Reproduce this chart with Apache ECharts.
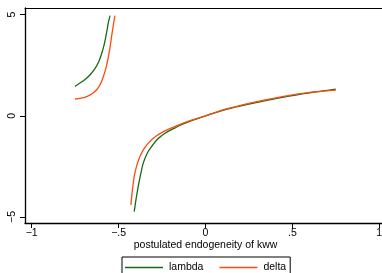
<!DOCTYPE html>
<html>
<head>
<meta charset="utf-8">
<script src="https://cdn.jsdelivr.net/npm/echarts@6/dist/echarts.min.js"></script>
<style>
  html, body { margin: 0; padding: 0; background: #fff; }
  #graphics { width: 382px; height: 273px; }
</style>
</head>
<body>
<div id="graphics"></div>
<script>
// tick values and labels
const xTicks = [-1, -0.5, 0, 0.5, 1];
const xTickLabels = ["\u22121", "\u2212.5", "0", ".5", "1"];
const yTicks = [-5, 0, 5];
const yTickLabels = ["\u22125", "0", "5"];

// lambda, left branch
const lambdaLeftX = [-0.751, -0.72, -0.693, -0.665, -0.636, -0.615, -0.597, -0.584, -0.573, -0.565, -0.559, -0.549];
const lambdaLeftY = [1.45, 1.63, 1.80, 2.02, 2.33, 2.66, 3.08, 3.48, 3.93, 4.3, 4.6, 4.95];
// lambda, right branch
const lambdaRightX = [-0.410, -0.398, -0.387, -0.372, -0.358, -0.335, -0.310, -0.275, -0.233, -0.18, -0.128, -0.06, 0, 0.125, 0.25, 0.375, 0.5, 0.625, 0.75];
const lambdaRightY = [-4.74, -4.05, -3.50, -2.85, -2.34, -1.85, -1.52, -1.15, -0.86, -0.62, -0.40, -0.18, 0, 0.33, 0.58, 0.80, 1.00, 1.17, 1.32];

// delta, left branch
const deltaLeftX = [-0.751, -0.715, -0.684, -0.655, -0.626, -0.605, -0.588, -0.572, -0.559, -0.549, -0.540, -0.530, -0.521];
const deltaLeftY = [0.83, 0.87, 0.95, 1.08, 1.29, 1.56, 1.93, 2.38, 2.90, 3.4, 3.93, 4.50, 4.95];
// delta, right branch
const deltaRightX = [-0.429, -0.420, -0.410, -0.395, -0.377, -0.355, -0.329, -0.295, -0.252, -0.19, -0.128, -0.06, 0, 0.125, 0.25, 0.375, 0.5, 0.625, 0.75];
const deltaRightY = [-4.41, -3.65, -3.00, -2.45, -2.01, -1.65, -1.35, -1.07, -0.83, -0.58, -0.36, -0.16, 0, 0.35, 0.62, 0.84, 1.03, 1.18, 1.27];

function pairs(xs, ys) {
    let out = [];
    for (let i = 0; i < xs.length; i++) {
        out.push([xs[i], ys[i]]);
    }
    return out;
}

const green = "#156b15";
const orange = "#ff4a10";
const font = "Liberation Sans, Arial, sans-serif";

function line(name, color, data) {
    return {
        name: name,
        type: "line",
        data: data,
        symbol: "none",
        smooth: 0.35,
        lineStyle: { color: color, width: 1.3 },
        itemStyle: { color: color },
        z: name == "delta" ? 3 : 2
    };
}

var myChart = echarts.init(document.getElementById("graphics"));

var option = {
    backgroundColor: "#fff",
    animation: false,
    textStyle: { fontFamily: font },
    grid: {
        left: 25, top: 8, right: -4, bottom: 50,
        outerBoundsMode: "none",
        show: false
    },
    legend: {
        data: ["lambda", "delta"],
        icon: "rect",
        left: 122, top: 257,
        padding: [5, 4, 6, 3],
        borderColor: "#000", borderWidth: 1,
        itemWidth: 38, itemHeight: 1.5, itemGap: 16,
        textStyle: { fontSize: 10.5, color: "#000", fontFamily: font, padding: [0, 0, 0, 1] }
    },
    xAxis: [{
        type: "value",
        min: -1.0385, max: 1.039,
        name: "postulated endogeneity of kww",
        nameLocation: "middle",
        nameGap: 17,
        nameMoveOverlap: false,
        nameTextStyle: { fontSize: 10.5, color: "#000", fontFamily: font },
        splitLine: { show: false },
        axisLine: { show: true, onZero: false, lineStyle: { color: "#000", width: 1.3 } },
        axisTick: { show: true, length: 5, customValues: xTicks, lineStyle: { color: "#000" } },
        axisLabel: {
            customValues: xTicks, margin: 5, fontSize: 10.5, color: "#000",
            formatter: function (v) { return xTickLabels[xTicks.indexOf(v)]; }
        }
    }, {
        // top frame line
        type: "value",
        position: "top",
        min: -1.0385, max: 1.039,
        splitLine: { show: false },
        axisLine: { show: true, onZero: false, lineStyle: { color: "#000", width: 1 } },
        axisTick: { show: false },
        axisLabel: { show: false }
    }],
    yAxis: {
        type: "value",
        min: -5.3, max: 5.33,
        splitLine: { show: false },
        axisLine: { show: true, onZero: false, lineStyle: { color: "#000", width: 1.3 } },
        axisTick: { show: true, length: 5, customValues: yTicks, lineStyle: { color: "#000" } },
        axisLabel: {
            customValues: yTicks, margin: 7, fontSize: 10.5, color: "#000", rotate: 90,
            formatter: function (v) { return yTickLabels[yTicks.indexOf(v)]; }
        }
    },
    series: [
        line("lambda", green, pairs(lambdaLeftX, lambdaLeftY)),
        line("lambda", green, pairs(lambdaRightX, lambdaRightY)),
        line("delta", orange, pairs(deltaLeftX, deltaLeftY)),
        line("delta", orange, pairs(deltaRightX, deltaRightY))
    ]
};

myChart.setOption(option);
</script>
</body>
</html>
